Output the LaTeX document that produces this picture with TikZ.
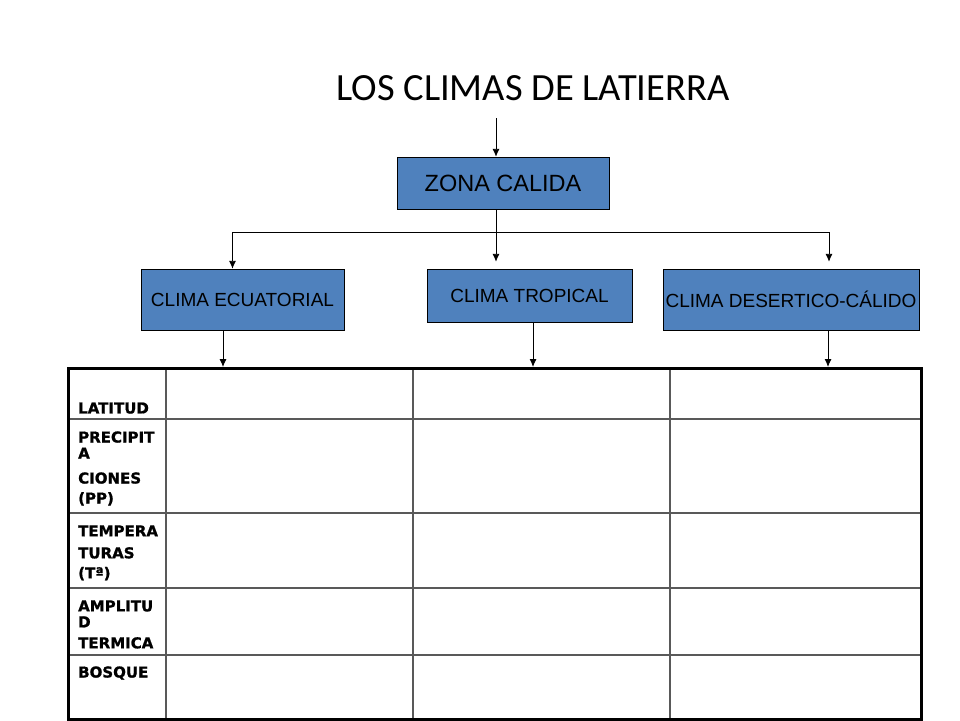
\documentclass[tikz,border=0pt]{standalone}
\usepackage{xcolor}
\usepackage{fontspec}
\setmainfont{Liberation Sans}
\newfontfamily\titlefont{Carlito}
\newfontfamily\rowfont{DejaVu Sans}[BoldFeatures={FakeBold=1.2}]
\usepackage{tikz}
\usetikzlibrary{arrows.meta}
\definecolor{boxblue}{HTML}{4F81BD}

\begin{document}
\begin{tikzpicture}[x=1pt, y=-1pt,
	climabox/.style={shape=rectangle, draw=black, fill=boxblue, inner sep=0pt, font=\fontsize{19}{21}\selectfont},
	rowlabel/.style={anchor=north west, inner sep=0pt, align=left, font=\rowfont\bfseries\fontsize{15}{16}\selectfont},
	conn/.style={draw=black, line width=0.9pt, -{Latex[length=8pt, width=7pt]}},
	grid/.style={draw=black!65, line width=1.3pt}]

	\useasboundingbox (0,0) rectangle (960,720);

	\node[font=\titlefont\fontsize{38.5}{40}\selectfont] (Titulo) at (533, 88) {LOS CLIMAS DE LATIERRA};
	\node[climabox, minimum width=212pt, minimum height=52pt, font=\fontsize{23.5}{25}\selectfont] (Zona) at (503, 183) {ZONA CALIDA};

	\node[climabox, minimum width=203pt, minimum height=61pt] (Ecuatorial) at (242.5, 299.5) {CLIMA ECUATORIAL};
	\node[climabox, minimum width=205pt, minimum height=53pt] (Tropical) at (529.5, 295.5) {CLIMA TROPICAL};
	\node[climabox, minimum width=256pt, minimum height=61pt] (Desertico) at (791, 299.5) {CLIMA DESERTICO-CÁLIDO};

	\coordinate (Inicio) at (496, 118);
	\coordinate (Rama) at (496, 232);

	% tabla
	\foreach \x in {166, 413, 670}
		\draw[grid] (\x, 367) -- (\x, 718);
	\foreach \y in {419, 513, 588, 655}
		\draw[grid] (67, \y) -- (920, \y);
	\node[draw=black, line width=3pt, minimum width=853pt, minimum height=351pt, inner sep=0pt, anchor=north west] (Tabla) at (67, 367) {};

	\node[rowlabel] (Latitud) at (78, 402.3) {LATITUD};
	\node[rowlabel] (Precip) at (78, 431.2) {PRECIPIT\\A\\[9pt]CIONES\\[4pt](PP)};
	\node[rowlabel] (Temp) at (78, 525.2) {TEMPERA\\[6pt]TURAS\\[4pt](Tª)};
	\node[rowlabel] (Amplitud) at (78, 600.2) {AMPLITU\\D\\[5pt]TERMICA};
	\node[rowlabel] (Bosque) at (78, 666.2) {BOSQUE};

	% flechas
	\draw[conn] (Inicio) -- (Inicio |- Zona.north);
	\draw[conn, -] (Rama |- Zona.south) -- (Rama);
	\draw[conn] (Rama) -| ([xshift=-10pt]Ecuatorial.north);
	\draw[conn, shorten >=7pt] (Rama) -- (Rama |- Tropical.north);
	\draw[conn, shorten >=7pt] (Rama) -| ([xshift=38pt]Desertico.north);

	\draw[conn] ([xshift=-19.5pt]Ecuatorial.south) -- ([xshift=-19.5pt]Ecuatorial.south |- Tabla.north);
	\draw[conn] ([xshift=3.5pt]Tropical.south) -- ([xshift=3.5pt]Tropical.south |- Tabla.north);
	\draw[conn] ([xshift=37pt]Desertico.south) -- ([xshift=37pt]Desertico.south |- Tabla.north);

\end{tikzpicture}
\end{document}
